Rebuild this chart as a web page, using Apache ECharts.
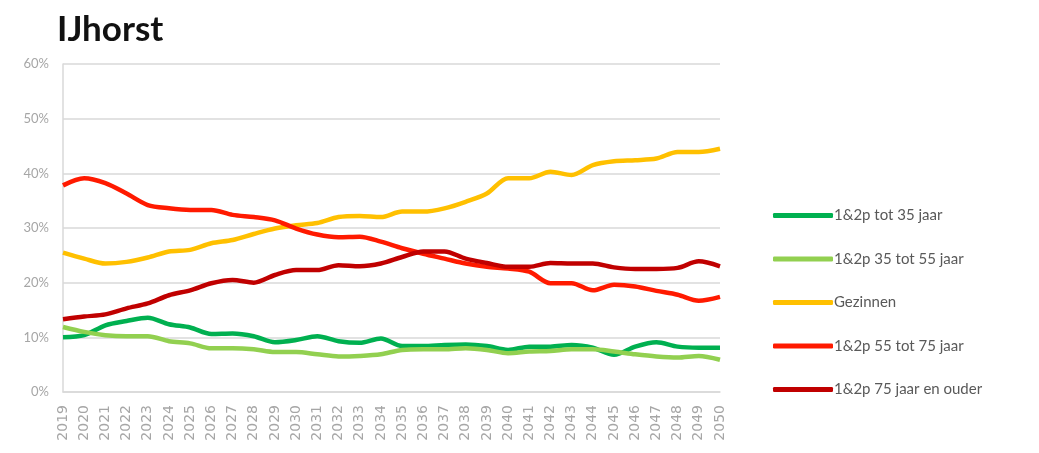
<!DOCTYPE html>
<html>
<head>
    <meta charset="utf-8">
    <title>IJhorst</title>
    <script src="https://cdn.jsdelivr.net/npm/echarts@6/dist/echarts.min.js"></script>
    <style>
        body { margin: 0; background: #fff; }
        #main { width: 1039px; height: 453px; }
    </style>
</head>
<body>
<div id="main"></div>
<script>
    // jaren op de x-as
    var years = [];
    for (var y = 2019; y <= 2050; y++) years.push(String(y));

    var seriesNames = ['1&2p tot 35 jaar', '1&2p 35 tot 55 jaar', 'Gezinnen', '1&2p 55 tot 75 jaar', '1&2p 75 jaar en ouder'];
    var seriesColors = ['#00b050', '#92d050', '#ffc000', '#ff1a00', '#c00000'];

    // aandelen in procenten
    var tot35 = [10.0, 10.4, 12.2, 13.0, 13.6, 12.4, 11.8, 10.6, 10.7, 10.2, 9.1, 9.5, 10.2, 9.3, 9.0, 9.8,
        8.4, 8.4, 8.6, 8.7, 8.4, 7.7, 8.3, 8.3, 8.6, 8.1, 6.8, 8.3, 9.1, 8.3, 8.1, 8.1];
    var tot55 = [11.9, 11.0, 10.4, 10.2, 10.2, 9.3, 8.9, 8.0, 8.0, 7.8, 7.3, 7.3, 6.9, 6.5, 6.6, 6.9,
        7.7, 7.8, 7.8, 8.0, 7.7, 7.1, 7.4, 7.5, 7.8, 7.8, 7.4, 6.9, 6.5, 6.3, 6.6, 5.9];
    var gezinnen = [25.5, 24.4, 23.5, 23.8, 24.6, 25.7, 26.0, 27.2, 27.8, 28.9, 29.9, 30.5, 30.9, 32.0, 32.2, 32.0,
        33.0, 33.0, 33.6, 34.8, 36.3, 39.1, 39.1, 40.3, 39.7, 41.5, 42.2, 42.4, 42.7, 43.9, 43.9, 44.5];
    var tot75 = [37.8, 39.1, 38.2, 36.3, 34.2, 33.6, 33.3, 33.3, 32.4, 32.0, 31.4, 29.9, 28.8, 28.3, 28.4, 27.5,
        26.3, 25.3, 24.4, 23.5, 22.9, 22.6, 22.0, 19.9, 19.9, 18.6, 19.6, 19.3, 18.5, 17.8, 16.7, 17.4];
    var ouder75 = [13.3, 13.8, 14.2, 15.3, 16.2, 17.7, 18.6, 19.9, 20.5, 20.0, 21.4, 22.3, 22.3, 23.2, 23.0, 23.5,
        24.7, 25.7, 25.7, 24.4, 23.6, 22.9, 22.9, 23.6, 23.5, 23.5, 22.8, 22.5, 22.5, 22.7, 23.9, 23.0];

    var values = [tot35, tot55, gezinnen, tot75, ouder75];

    var series = [];
    for (var i = 0; i < seriesNames.length; i++) {
        series.push({
            name: seriesNames[i],
            type: 'line',
            data: values[i],
            symbol: 'none',
            smooth: 0.3,
            color: seriesColors[i],
            lineStyle: { width: 4.5, color: seriesColors[i] }
        });
    }

    var myChart = echarts.init(document.getElementById('main'));
    var option = {
        animation: false,
        title: {
            text: 'IJhorst',
            left: 52,
            top: 7,
            textStyle: { fontFamily: 'Lato', fontSize: 35, fontWeight: 'bold', color: '#111' }
        },
        grid: { left: 63, right: 319, top: 64, bottom: 61 },
        legend: {
            orient: 'vertical',
            left: 768,
            top: 203,
            icon: 'roundRect',
            itemWidth: 60,
            itemHeight: 5,
            itemGap: 28.5,
            textStyle: { fontFamily: 'Lato', fontSize: 15, color: '#595959', padding: [0, 0, 0, -4] },
            data: seriesNames
        },
        xAxis: {
            type: 'category',
            data: years,
            boundaryGap: false,
            axisLine: { show: true, lineStyle: { color: '#d9d9d9', width: 1.5 } },
            axisTick: { show: false },
            axisLabel: { interval: 0, rotate: 90, fontFamily: 'DejaVu Sans', fontSize: 14, color: '#a6a6a6', margin: 13 }
        },
        yAxis: {
            type: 'value',
            min: 0,
            max: 60,
            interval: 10,
            axisLine: { show: true, lineStyle: { color: '#d9d9d9', width: 1.5 } },
            axisTick: { show: false },
            splitLine: { lineStyle: { color: '#d9d9d9', width: 1.5 } },
            axisLabel: { formatter: '{value}%', fontFamily: 'Lato', fontSize: 13, color: '#a6a6a6', margin: 14 }
        },
        series: series
    };
    myChart.setOption(option);
</script>
</body>
</html>
